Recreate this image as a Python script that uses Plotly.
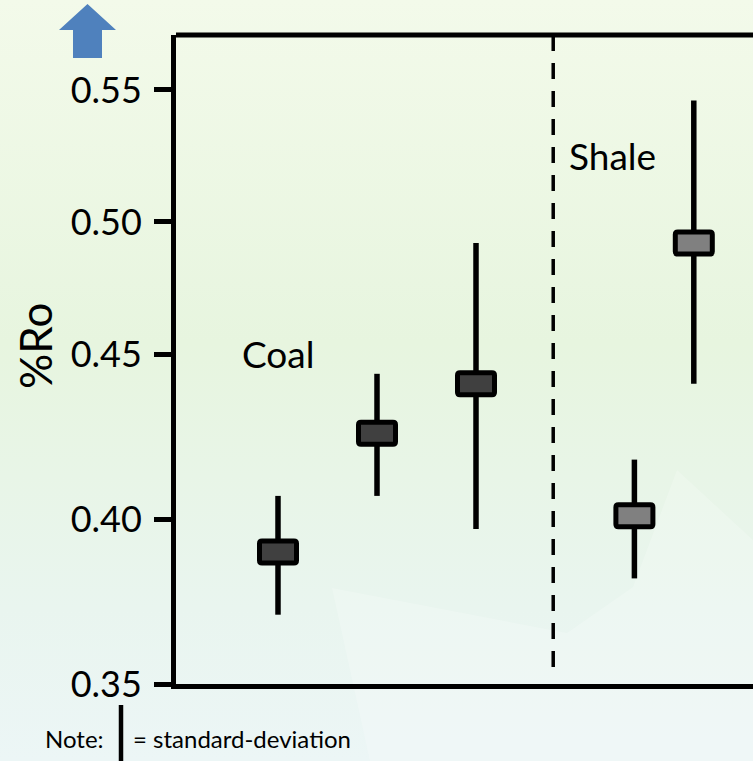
import base64
import plotly.graph_objects as go

# ---------------- data ----------------
coal_pos = [1, 2, 3]
coal_mean = [0.390, 0.426, 0.441]
coal_low = [0.371, 0.407, 0.397]
coal_high = [0.407, 0.444, 0.492]

shale_pos = [4.6, 5.2]
shale_mean = [0.401, 0.492]
shale_low = [0.382, 0.441]
shale_high = [0.418, 0.546]

y_ticks_lower = [0.35, 0.40, 0.45]
y_ticks_upper = [0.50, 0.55]
y_tick_text_lower = ["0.35", "0.40", "0.45"]
y_tick_text_upper = ["0.50", "0.55"]

group_labels = ["Coal", "Shale"]
y_title = "%Ro"
note_label = "Note:"
note_text = "= standard-deviation"

# ---------------- layout geometry ----------------
W, H = 753, 761
ML, MR, MT, MB = 176, 0, 35, 77
PW, PH = W - ML - MR, H - MT - MB
SPLIT_VALUE = 0.45                 # value where the two axis scales meet
SPLIT_FRAC = 330 / PH              # paper fraction of the split
X_RANGE = [-0.0303, 5.798]
LOWER_RANGE = [0.35, 0.45]
UPPER_RANGE = [0.45, 0.5708]
DIVIDER_X = 3.78
FONT = "Lato, 'Open Sans', sans-serif"


def px_x(px):
    return (px - ML) / PW


def px_y(py):
    return (H - MB - py) / PH


# ---------------- background (gradient as inline SVG) ----------------
svg = f"""<svg xmlns='http://www.w3.org/2000/svg' width='{W}' height='{H}' viewBox='0 0 {W} {H}' preserveAspectRatio='none'>
<defs><linearGradient id='g' x1='0' y1='0' x2='0' y2='1'>
<stop offset='0' stop-color='#f3faea'/>
<stop offset='0.45' stop-color='#e7f5df'/>
<stop offset='0.8' stop-color='#e9f5ef'/>
<stop offset='1' stop-color='#ecf6f6'/>
</linearGradient></defs>
<rect x='0' y='0' width='{W}' height='{H}' fill='url(#g)'/>
<polygon points='332,588 567,633 633,587 677,470 753,540 753,761 370,761' fill='#ffffff' fill-opacity='0.2'/>
</svg>"""
bg_src = "data:image/svg+xml;base64," + base64.b64encode(svg.encode()).decode()

fig = go.Figure()


def whisker_xy(pos, low, high):
    xs, ys = [], []
    for p, lo, hi in zip(pos, low, high):
        xs += [p, p, None]
        ys += [lo, hi, None]
    return xs, ys


all_pos = coal_pos + shale_pos
all_low = coal_low + shale_low
all_high = coal_high + shale_high
wx, wy = whisker_xy(all_pos, all_low, all_high)

# whiskers drawn on both y-scales; each copy is clipped to its own part
for yax in ["y", "y2"]:
    fig.add_trace(go.Scatter(
        x=wx, y=wy, mode="lines", yaxis=yax, xaxis="x",
        line=dict(color="black", width=5.5), hoverinfo="skip", showlegend=False,
    ))

# mean boxes
box_path = ("M -18.5,-8.5 Q -18.5,-11 -16,-11 L 16,-11 Q 18.5,-11 18.5,-8.5 "
            "L 18.5,8.5 Q 18.5,11 16,11 L -16,11 Q -18.5,11 -18.5,8.5 Z")
shapes = []
for pos, means, fill in [(coal_pos, coal_mean, "#404040"), (shale_pos, shale_mean, "#808080")]:
    for p, m in zip(pos, means):
        shapes.append(dict(
            type="path", xref="x", yref="y" if m < SPLIT_VALUE else "y2",
            xsizemode="pixel", ysizemode="pixel", xanchor=p, yanchor=m,
            path=box_path, fillcolor=fill, line=dict(color="black", width=5),
            layer="above",
        ))

# top frame line
shapes.append(dict(type="line", xref="paper", yref="paper", x0=0, x1=1.01, y0=1, y1=1,
                   line=dict(color="black", width=5)))
# divider between coal and shale
shapes.append(dict(type="line", xref="x", yref="paper", x0=DIVIDER_X, x1=DIVIDER_X,
                   y0=1, y1=px_y(668), line=dict(color="black", width=3.5, dash="16px,12px")))
# note bar
shapes.append(dict(type="line", xref="paper", yref="paper", x0=px_x(121), x1=px_x(121),
                   y0=px_y(705), y1=px_y(765), line=dict(color="black", width=4.5)))
# blue up-arrow
arrow_pts = [(87.5, 4), (116, 30), (102, 30), (102, 58), (73, 58), (73, 30), (59, 30)]
arrow_path = "M " + " L ".join(f"{px_x(a):.5f},{px_y(b):.5f}" for a, b in arrow_pts) + " Z"
shapes.append(dict(type="path", xref="paper", yref="paper", path=arrow_path,
                   fillcolor="#4f81bd", line=dict(width=0)))

annotations = [
    dict(text=group_labels[0], xref="paper", yref="paper", x=px_x(240), y=px_y(353),
         xanchor="left", yanchor="middle", showarrow=False, font=dict(size=37, color="black")),
    dict(text=group_labels[1], xref="paper", yref="paper", x=px_x(567), y=px_y(155),
         xanchor="left", yanchor="middle", showarrow=False, font=dict(size=37, color="black")),
    dict(text=y_title, xref="paper", yref="paper", x=px_x(35), y=px_y(346),
         xanchor="center", yanchor="middle", textangle=-90, showarrow=False,
         font=dict(size=44, color="black")),
    dict(text=note_label, xref="paper", yref="paper", x=px_x(43), y=px_y(738),
         xanchor="left", yanchor="middle", showarrow=False, font=dict(size=24, color="black")),
    dict(text=note_text, xref="paper", yref="paper", x=px_x(131), y=px_y(738),
         xanchor="left", yanchor="middle", showarrow=False, font=dict(size=24, color="black")),
]

axis_common = dict(showline=True, linecolor="black", linewidth=5, ticks="outside",
                   ticklen=17, tickwidth=5, tickcolor="black", showgrid=False,
                   zeroline=False, tickfont=dict(size=36, color="black"),
                   ticklabelstandoff=5, fixedrange=True)

fig.update_layout(
    width=W, height=H,
    margin=dict(l=ML, r=MR, t=MT, b=MB, pad=0),
    paper_bgcolor="#eaf5e6", plot_bgcolor="rgba(0,0,0,0)",
    font=dict(family=FONT, color="black"),
    showlegend=False,
    xaxis=dict(range=X_RANGE, showline=True, linecolor="black", linewidth=5,
               showticklabels=False, ticks="", showgrid=False, zeroline=False,
               anchor="y", fixedrange=True),
    yaxis=dict(domain=[0, SPLIT_FRAC], range=LOWER_RANGE, tickmode="array",
               tickvals=y_ticks_lower, ticktext=y_tick_text_lower, anchor="x", **axis_common),
    yaxis2=dict(domain=[SPLIT_FRAC, 1], range=UPPER_RANGE, tickmode="array",
                tickvals=y_ticks_upper, ticktext=y_tick_text_upper, anchor="x", **axis_common),
    shapes=shapes,
    annotations=annotations,
    images=[dict(source=bg_src, xref="paper", yref="paper", x=-ML / PW, y=1 + MT / PH,
                 sizex=W / PW, sizey=H / PH, xanchor="left", yanchor="top",
                 sizing="stretch", layer="below")],
)

fig.write_html("out.html")
